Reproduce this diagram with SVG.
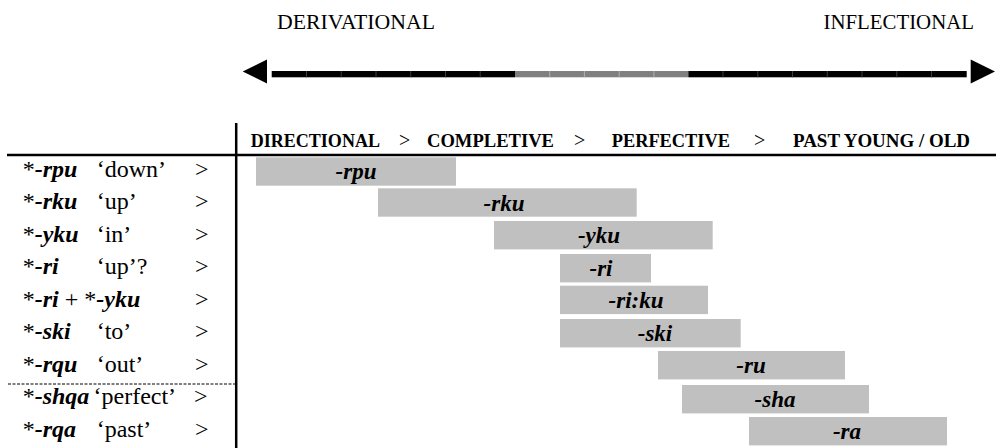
<svg xmlns="http://www.w3.org/2000/svg" width="996" height="448" viewBox="0 0 996 448">
<style>
  text { font-family: "Liberation Serif", "Times New Roman", serif; fill: #000; }
  .top { font-size: 21px; }
  .hd { font-size: 18px; font-weight: bold; }
  .gt { font-size: 20px; font-weight: normal; }
  .lab { font-size: 24px; }
  .bi { font-weight: bold; font-style: italic; }
  .box { fill: #c0c0c0; }
  .bl { font-size: 23px; font-weight: bold; font-style: italic; text-anchor: middle; }
  .sepk { stroke: #3c3c3c; stroke-width: 1; }
  .sepg { stroke: #b0b0b0; stroke-width: 1; }
</style>

<g id="scale">
  <text class="top" x="277" y="28.5" textLength="158" lengthAdjust="spacingAndGlyphs">DERIVATIONAL</text>
  <text class="top" x="823.5" y="28.5" textLength="150.5" lengthAdjust="spacingAndGlyphs">INFLECTIONAL</text>
  <polygon points="242.7,71.5 267,59.5 267,83.5" fill="#000"/>
  <polygon points="995,71.5 970.7,59.5 970.7,83.5" fill="#000"/>
  <rect x="271.7" y="71" width="243.3" height="6.3" fill="#000"/>
  <rect x="515" y="71" width="173.3" height="6.3" fill="#808080"/>
  <rect x="688.3" y="71" width="278.4" height="6.3" fill="#000"/>
  <g class="sepk">
    <line x1="306.5" y1="71" x2="306.5" y2="77.3"/>
    <line x1="341.2" y1="71" x2="341.2" y2="77.3"/>
    <line x1="376" y1="71" x2="376" y2="77.3"/>
    <line x1="410.7" y1="71" x2="410.7" y2="77.3"/>
    <line x1="445.5" y1="71" x2="445.5" y2="77.3"/>
    <line x1="480.2" y1="71" x2="480.2" y2="77.3"/>
    <line x1="723" y1="71" x2="723" y2="77.3"/>
    <line x1="757.8" y1="71" x2="757.8" y2="77.3"/>
    <line x1="792.5" y1="71" x2="792.5" y2="77.3"/>
    <line x1="827.3" y1="71" x2="827.3" y2="77.3"/>
    <line x1="862" y1="71" x2="862" y2="77.3"/>
    <line x1="896.8" y1="71" x2="896.8" y2="77.3"/>
    <line x1="931.5" y1="71" x2="931.5" y2="77.3"/>
  </g>
  <g class="sepg">
    <line x1="549.7" y1="71" x2="549.7" y2="77.3"/>
    <line x1="584.4" y1="71" x2="584.4" y2="77.3"/>
    <line x1="619.2" y1="71" x2="619.2" y2="77.3"/>
    <line x1="653.9" y1="71" x2="653.9" y2="77.3"/>
  </g>
</g>

<g id="table-lines">
  <line x1="7" y1="155" x2="996" y2="155" stroke="#000" stroke-width="2.5"/>
  <line x1="236.2" y1="123" x2="236.2" y2="448" stroke="#000" stroke-width="2.5"/>
  <line x1="8" y1="384" x2="235" y2="384" stroke="#000" stroke-width="1" stroke-dasharray="3,1.5"/>
</g>

<g id="header">
  <text class="hd" x="250.7" y="147" textLength="129.3" lengthAdjust="spacingAndGlyphs">DIRECTIONAL</text>
  <text class="gt" x="399" y="147">&gt;</text>
  <text class="hd" x="427" y="147" textLength="127" lengthAdjust="spacingAndGlyphs">COMPLETIVE</text>
  <text class="gt" x="574" y="147">&gt;</text>
  <text class="hd" x="611.7" y="147" textLength="118.3" lengthAdjust="spacingAndGlyphs">PERFECTIVE</text>
  <text class="gt" x="754" y="147">&gt;</text>
  <text class="hd" x="793" y="147" textLength="177" lengthAdjust="spacingAndGlyphs">PAST YOUNG / OLD</text>
</g>

<g id="row-rpu">
  <text class="lab" x="22.7" y="177">*<tspan class="bi">-rpu</tspan></text>
  <text class="lab" x="96.7" y="177">‘down’</text>
  <text class="lab" x="195" y="177">&gt;</text>
  <rect class="box" x="256" y="157.3" width="200" height="28.4"/>
  <text class="bl" x="356" y="179.3">-rpu</text>
</g>
<g id="row-rku">
  <text class="lab" x="22.7" y="209">*<tspan class="bi">-rku</tspan></text>
  <text class="lab" x="96.7" y="209">‘up’</text>
  <text class="lab" x="195" y="209">&gt;</text>
  <rect class="box" x="378" y="188.3" width="258.7" height="28.4"/>
  <text class="bl" x="504" y="210.5">-rku</text>
</g>
<g id="row-yku">
  <text class="lab" x="22.7" y="241.5">*<tspan class="bi">-yku</tspan></text>
  <text class="lab" x="96.7" y="241.5">‘in’</text>
  <text class="lab" x="195" y="241.5">&gt;</text>
  <rect class="box" x="494" y="221" width="218.7" height="28.4"/>
  <text class="bl" x="599" y="243">-yku</text>
</g>
<g id="row-ri">
  <text class="lab" x="22.7" y="274">*<tspan class="bi">-ri</tspan></text>
  <text class="lab" x="96.7" y="274">‘up’?</text>
  <text class="lab" x="195" y="274">&gt;</text>
  <rect class="box" x="560" y="254" width="91" height="28.4"/>
  <text class="bl" x="601" y="276">-ri</text>
</g>
<g id="row-riku">
  <text class="lab" x="22.7" y="306.5">*<tspan class="bi">-ri</tspan> + *<tspan class="bi">-yku</tspan></text>
  <text class="lab" x="195" y="306.5">&gt;</text>
  <rect class="box" x="560" y="285.7" width="148" height="28.4"/>
  <text class="bl" x="636" y="307.7">-ri:ku</text>
</g>
<g id="row-ski">
  <text class="lab" x="22.7" y="339">*<tspan class="bi">-ski</tspan></text>
  <text class="lab" x="96.7" y="339">‘to’</text>
  <text class="lab" x="195" y="339">&gt;</text>
  <rect class="box" x="560" y="319" width="180.7" height="28.4"/>
  <text class="bl" x="655" y="341">-ski</text>
</g>
<g id="row-rqu">
  <text class="lab" x="22.7" y="371.5">*<tspan class="bi">-rqu</tspan></text>
  <text class="lab" x="96.7" y="371.5">‘out’</text>
  <text class="lab" x="195" y="371.5">&gt;</text>
  <rect class="box" x="658" y="351" width="187" height="28.4"/>
  <text class="bl" x="751" y="373">-ru</text>
</g>
<g id="row-shqa">
  <text class="lab" x="22.7" y="404">*<tspan class="bi">-shqa</tspan></text>
  <text class="lab" x="93.5" y="404">‘perfect’</text>
  <text class="lab" x="194" y="404">&gt;</text>
  <rect class="box" x="682" y="385" width="187" height="28.4"/>
  <text class="bl" x="775" y="407">-sha</text>
</g>
<g id="row-rqa">
  <text class="lab" x="22.7" y="436.5">*<tspan class="bi">-rqa</tspan></text>
  <text class="lab" x="96.7" y="436.5">‘past’</text>
  <text class="lab" x="195" y="436.5">&gt;</text>
  <rect class="box" x="749" y="417" width="198" height="28.4"/>
  <text class="bl" x="847" y="439">-ra</text>
</g>
</svg>
